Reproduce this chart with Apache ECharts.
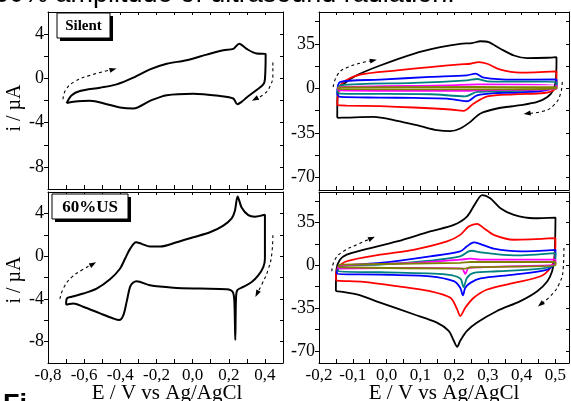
<!DOCTYPE html>
<html><head><meta charset="utf-8">
<script src="https://cdn.jsdelivr.net/npm/echarts@6/dist/echarts.min.js"></script>
<style>html,body{margin:0;padding:0;background:#fff;overflow:hidden}#c{width:571px;height:401px}</style>
</head><body><div id="c"></div><script>
// ---------- tick / label values ----------
const leftXTicks  = [-0.8,-0.7,-0.6,-0.5,-0.4,-0.3,-0.2,-0.1,0,0.1,0.2,0.3,0.4,0.5];
const leftXLabels = [-0.8,-0.6,-0.4,-0.2,0,0.2,0.4];
const rightXTicks = [-0.2,-0.15,-0.1,-0.05,0,0.05,0.1,0.15,0.2,0.25,0.3,0.35,0.4,0.45,0.5];
const rightXLabels= [-0.2,-0.1,0,0.1,0.2,0.3,0.4,0.5];
const leftYTicks  = [-8,-6,-4,-2,0,2,4];
const leftYLabels = [-8,-4,0,4];
const rightYTicks = [-70,-52.5,-35,-17.5,0,17.5,35,52.5];
const rightYLabels= [-70,-35,0,35];

// ---------- Silent, single scan (top-left), E (V) , i (uA) ----------
const silentCV = [[-0.697,-2.24],[-0.669,-1.52],[-0.623,-1.14],[-0.512,-0.84],[-0.42,-0.54],[-0.328,0.06],[-0.236,0.81],[-0.143,1.32],[-0.033,1.64],[0.078,2.15],[0.17,2.54],[0.225,2.66],[0.258,3.14],[0.299,2.66],[0.354,2.24],[0.404,2.21],[0.40,-0.09],[0.391,-0.54],[0.354,-1.05],[0.299,-1.73],[0.271,-2.12],[0.247,-2.33],[0.225,-1.82],[0.151,-1.59],[0.004,-1.38],[-0.143,-1.52],[-0.236,-2.03],[-0.328,-2.72],[-0.402,-2.63],[-0.475,-2.33],[-0.568,-2.03],[-0.66,-2.12],[-0.697,-2.24]];

// ---------- 60%US, single scan (bottom-left) ----------
const usCV = [[-0.70,-4.55],[-0.695,-3.95],[-0.669,-3.8],[-0.605,-3.5],[-0.531,-3.04],[-0.457,-2.17],[-0.402,-1.18],[-0.374,-0.25],[-0.346,0.68],[-0.313,1.3],[-0.282,1.15],[-0.236,0.9],[-0.18,0.9],[-0.088,1.3],[0.004,1.77],[0.096,2.23],[0.17,2.85],[0.216,3.53],[0.234,4.25],[0.249,5.58],[0.271,4.56],[0.308,3.84],[0.345,3.69],[0.40,3.88],[0.40,-0.25],[0.391,-1.02],[0.363,-1.8],[0.327,-2.42],[0.28,-2.88],[0.247,-3.19],[0.240,-4.0],[0.236,-7.84],[0.231,-4.28],[0.222,-3.35],[0.188,-3.1],[0.041,-3.04],[-0.107,-2.95],[-0.236,-2.73],[-0.31,-2.36],[-0.33,-2.5],[-0.346,-2.88],[-0.365,-4.28],[-0.383,-5.52],[-0.406,-5.98],[-0.439,-5.83],[-0.512,-5.36],[-0.605,-4.74],[-0.66,-4.43],[-0.688,-4.5],[-0.70,-4.55]];

// ---------- Silent, several scan rates (top-right) ----------
const silentBlack = [[-0.146,-23.2],[-0.145,-2.9],[-0.128,3.1],[-0.088,10.2],[-0.019,17.9],[0.080,27.1],[0.159,32.3],[0.218,35.0],[0.253,35.5],[0.278,37.0],[0.302,36.3],[0.337,31.1],[0.377,25.8],[0.416,23.7],[0.476,24.0],[0.503,24.5],[0.501,6.3],[0.493,-1.6],[0.476,-6.8],[0.446,-10.7],[0.396,-13.3],[0.327,-15.9],[0.278,-19.8],[0.248,-26.4],[0.218,-31.6],[0.189,-33.7],[0.149,-32.9],[0.100,-29.8],[0.031,-25.6],[-0.039,-22.5],[-0.118,-23.0],[-0.146,-23.2]];
const silentRed = [[-0.146,-13.3],[-0.143,-4.2],[-0.133,3.7],[-0.078,10.7],[0.031,14.1],[0.129,16.7],[0.218,18.8],[0.248,19.3],[0.273,20.6],[0.298,19.3],[0.337,14.6],[0.396,12.3],[0.503,13.3],[0.503,1.0],[0.490,-2.1],[0.466,-3.7],[0.377,-4.7],[0.298,-6.3],[0.258,-12.0],[0.228,-17.8],[0.189,-16.7],[0.080,-15.1],[-0.019,-14.1],[-0.118,-13.6],[-0.146,-13.3]];
const silentBlue = [[-0.146,-4.7],[-0.138,4.9],[-0.019,6.8],[0.129,8.9],[0.238,10.2],[0.263,11.5],[0.288,8.4],[0.377,6.8],[0.503,7.0],[0.503,2.3],[0.456,-2.3],[0.327,-3.7],[0.268,-5.5],[0.238,-10.2],[0.179,-8.1],[0.080,-7.6],[-0.019,-7.3],[-0.138,-6.8],[-0.146,-4.7]];
const silentTeal = [[-0.146,-3.0],[-0.138,2.3],[0.080,4.2],[0.238,6.3],[0.268,7.3],[0.298,5.5],[0.503,4.9],[0.503,1.0],[0.377,-2.1],[0.268,-2.9],[0.233,-6.3],[0.129,-4.7],[-0.138,-4.2],[-0.146,-3.0]];
const silentMagenta = [[-0.146,-0.5],[-0.138,1.0],[0.179,2.3],[0.268,3.1],[0.503,2.3],[0.503,-0.3],[0.268,-1.6],[0.238,-2.1],[-0.138,-1.6],[-0.146,-0.5]];
const silentOlive = [[-0.146,0],[-0.138,0.7],[0.260,1.0],[0.503,0.8],[0.503,-0.5],[0.250,-0.8],[-0.138,-0.7],[-0.146,0]];

// ---------- 60%US, several scan rates (bottom-right) ----------
const usBlack = [[-0.150,-21.2],[-0.148,-3.0],[-0.138,4.5],[-0.118,8.7],[-0.069,12.7],[0.031,19.5],[0.129,27.7],[0.199,33.1],[0.238,39.9],[0.263,50.7],[0.283,57.5],[0.307,54.8],[0.337,46.7],[0.377,41.2],[0.436,38.5],[0.500,39.1],[0.497,6.0],[0.490,-4.9],[0.476,-13.0],[0.446,-21.2],[0.396,-29.3],[0.327,-37.4],[0.268,-46.9],[0.238,-53.7],[0.218,-61.8],[0.209,-66.7],[0.199,-61.8],[0.184,-53.7],[0.149,-46.9],[0.080,-40.1],[-0.019,-30.6],[-0.088,-23.9],[-0.150,-21.2]];
const usRed = [[-0.150,-11.7],[-0.146,-2.7],[-0.118,3.3],[-0.019,8.7],[0.080,12.7],[0.179,19.5],[0.218,24.9],[0.243,31.7],[0.268,33.9],[0.288,30.4],[0.317,24.9],[0.377,20.9],[0.500,22.2],[0.497,6.0],[0.485,-2.2],[0.456,-9.0],[0.377,-14.4],[0.298,-19.8],[0.258,-26.6],[0.233,-34.7],[0.218,-41.5],[0.209,-36.1],[0.189,-26.6],[0.129,-21.2],[0.031,-17.1],[-0.069,-13.6],[-0.147,-12.5],[-0.150,-11.7]];
const usBlue = [[-0.147,-4.9],[-0.138,-0.8],[-0.019,1.9],[0.129,7.3],[0.218,11.4],[0.238,15.5],[0.258,18.7],[0.278,17.4],[0.317,13.6],[0.396,11.4],[0.500,12.7],[0.497,1.9],[0.476,-3.5],[0.377,-7.6],[0.278,-10.8],[0.248,-14.4],[0.233,-18.4],[0.226,-24.7],[0.218,-18.4],[0.199,-13.0],[0.129,-9.0],[-0.019,-7.6],[-0.147,-7.1],[-0.147,-4.9]];
const usTeal = [[-0.143,-1.6],[-0.138,0.0],[-0.019,0.5],[0.129,3.8],[0.218,7.3],[0.243,11.4],[0.253,11.9],[0.278,10.6],[0.377,8.1],[0.500,10.0],[0.497,0.5],[0.456,-2.7],[0.327,-4.9],[0.258,-6.2],[0.238,-10.3],[0.228,-17.9],[0.218,-10.8],[0.179,-7.6],[-0.019,-5.7],[-0.143,-4.9],[-0.143,-1.6]];
const usMagenta = [[-0.143,-1.0],[-0.138,0.0],[0.080,1.9],[0.218,4.6],[0.248,5.4],[0.278,4.6],[0.500,4.6],[0.500,1.1],[0.278,-1.6],[0.243,-2.2],[0.233,-7.1],[0.223,-2.7],[0.080,-2.2],[-0.143,-2.7],[-0.143,-1.0]];
const usOlive = [[-0.143,-0.5],[-0.138,0.5],[0.218,1.9],[0.248,2.7],[0.500,2.7],[0.500,0.0],[0.248,-1.6],[0.233,-2.7],[-0.138,-1.6],[-0.143,-0.5]];

// ---------- scan-direction arrows (dashed) ----------
const arrowTL1 = [[-0.717,-1.88],[-0.70,-0.99],[-0.65,-0.27],[-0.568,0.27],[-0.44,0.81]];
const arrowTL2 = [[0.444,1.43],[0.444,0.36],[0.428,-0.72],[0.395,-1.43],[0.345,-1.88]];
const arrowBL1 = [[-0.734,-4.0],[-0.711,-2.88],[-0.667,-1.95],[-0.612,-1.3],[-0.551,-0.74]];
const arrowBL2 = [[0.444,1.95],[0.439,0.37],[0.417,-1.3],[0.384,-2.6],[0.356,-3.53]];
const arrowTR1 = [[-0.158,1.0],[-0.143,11.5],[-0.113,16.7],[-0.078,19.8],[-0.039,21.9]];
const arrowTR2 = [[0.520,4.9],[0.515,-4.2],[0.495,-13.3],[0.466,-17.8],[0.416,-19.8]];
const arrowBR1 = [[-0.162,-4.9],[-0.153,4.6],[-0.128,11.4],[-0.088,16.8],[-0.044,22.2]];
const arrowBR2 = [[0.525,14.1],[0.523,-2.2],[0.510,-15.7],[0.485,-25.2],[0.456,-32.0]];

const panelLabels = ['Silent', '60%US'];
const axisNameY = 'i / \u00B5A';
const axisNameX = 'E / V vs Ag/AgCl';
const titleText = '60% amplitude of ultrasound radiation.';
const captionText = 'Fi';

// ---------- build chart ----------
const SERIF = '"Liberation Serif","Times New Roman",serif';
const SANS = '"Liberation Sans",Arial,sans-serif';
const grids = [
  {left:48, top:12, width:235, height:177},
  {left:319, top:12, width:250, height:178},
  {left:48, top:192, width:235, height:171},
  {left:319, top:192, width:250, height:171}
];
const fmtX = v => (Math.round(v*10)/10).toFixed(1).replace('.', ',');
const lineSt = {color:'#000', width:1};

const xAxes = [], yAxes = [];
function addAxes(gi, xr, yr, xt, xl, yt, yl, showX) {
  xAxes.push({type:'value', gridIndex:gi, position:'bottom', min:xr[0], max:xr[1], splitLine:{show:false},
    axisLine:{show:true, onZero:false, lineStyle:lineSt},
    axisTick:{show:true, inside:true, length:4, customValues:xt, lineStyle:lineSt},
    axisLabel:{show:showX, customValues:xl, formatter:fmtX, color:'#000', fontFamily:SERIF, fontSize:17, margin:4}});
  xAxes.push({type:'value', gridIndex:gi, position:'top', min:xr[0], max:xr[1], splitLine:{show:false},
    axisLine:{show:true, onZero:false, lineStyle:lineSt},
    axisTick:{show:true, inside:true, length:3, customValues:xt, lineStyle:lineSt},
    axisLabel:{show:false}});
  yAxes.push({type:'value', gridIndex:gi, position:'left', min:yr[0], max:yr[1], splitLine:{show:false},
    axisLine:{show:true, onZero:false, lineStyle:lineSt},
    axisTick:{show:true, inside:false, length:4, customValues:yt, lineStyle:lineSt},
    axisLabel:{show:true, customValues:yl, color:'#000', fontFamily:SERIF, fontSize:18, margin:4}});
  yAxes.push({type:'value', gridIndex:gi, position:'right', min:yr[0], max:yr[1], splitLine:{show:false},
    axisLine:{show:true, onZero:false, lineStyle:lineSt},
    axisTick:{show:true, inside:true, length:3, customValues:yt, lineStyle:lineSt},
    axisLabel:{show:false}});
}
addAxes(0, [-0.8,0.5], [-10,6], leftXTicks, leftXLabels, leftYTicks, leftYLabels, false);
addAxes(1, [-0.2,0.54], [-80,60], rightXTicks, rightXLabels, rightYTicks, rightYLabels, false);
addAxes(2, [-0.8,0.5], [-10,6], leftXTicks, leftXLabels, leftYTicks, leftYLabels, true);
addAxes(3, [-0.2,0.54], [-80,60], rightXTicks, rightXLabels, rightYTicks, rightYLabels, true);

const series = [];
function curve(gi, data, color, w) {
  series.push({type:'line', xAxisIndex:2*gi, yAxisIndex:2*gi, data:data, symbol:'none', showSymbol:false,
    smooth:0.3, lineStyle:{color:color, width:w}, silent:true, z:3});
}
function arrow(gi, data, rot) {
  const d = data.map((p,i) => i === data.length-1
    ? {value:p, symbol:'triangle', symbolSize:[5,7], symbolRotate:rot, itemStyle:{color:'#000'}}
    : {value:p, symbol:'none'});
  series.push({type:'line', xAxisIndex:2*gi, yAxisIndex:2*gi, data:d, showSymbol:true, smooth:0.5,
    lineStyle:{color:'#000', width:1.1, type:[3,3]}, silent:true, z:4});
}
curve(0, silentCV, '#000', 2);
curve(2, usCV, '#000', 2);
const rightColors = ['#000000','#ff0000','#0000ff','#008080','#ff00ff','#808000'];
[silentBlack, silentRed, silentBlue, silentTeal, silentMagenta, silentOlive].forEach((d,i)=>curve(1, d, rightColors[i], 1.8));
[usBlack, usRed, usBlue, usTeal, usMagenta, usOlive].forEach((d,i)=>curve(3, d, rightColors[i], 1.8));
arrow(0, arrowTL1, -75); arrow(0, arrowTL2, 119);
arrow(2, arrowBL1, -60); arrow(2, arrowBL2, 153);
arrow(1, arrowTR1, -78); arrow(1, arrowTR2, 99);
arrow(3, arrowBR1, -66); arrow(3, arrowBR2, 130);

function labelBox(x, y, w, h, text, fs) {
  return [
    {type:'rect', shape:{x:x+3, y:y+3, width:w, height:h}, style:{fill:'#000'}, z:10},
    {type:'rect', shape:{x:x, y:y, width:w, height:h}, style:{fill:'#fff', stroke:'#000', lineWidth:1}, z:11},
    {type:'text', x:x+w/2, y:y+h/2+1, style:{text:text, font:'bold '+fs+'px '+SERIF, fill:'#000', align:'center', verticalAlign:'middle'}, z:12}
  ];
}

const graphic = [
  {type:'text', x:-6, y:-5, style:{text:titleText, font:'27px '+SANS, fill:'#000', align:'left', verticalAlign:'middle'}},
  {type:'text', x:3, y:406, style:{text:captionText, font:'bold 27px '+SANS, fill:'#000', align:'left', verticalAlign:'middle'}},
  {type:'text', x:15, y:108, rotation:Math.PI/2, style:{text:axisNameY, font:'20px '+SERIF, fill:'#000', align:'center', verticalAlign:'middle'}},
  {type:'text', x:15, y:280, rotation:Math.PI/2, style:{text:axisNameY, font:'20px '+SERIF, fill:'#000', align:'center', verticalAlign:'middle'}},
  {type:'text', x:167, y:393, style:{text:axisNameX, font:'21px '+SERIF, fill:'#000', align:'center', verticalAlign:'middle'}},
  {type:'text', x:444, y:393, style:{text:axisNameX, font:'21px '+SERIF, fill:'#000', align:'center', verticalAlign:'middle'}}
].concat(labelBox(57, 13, 53, 25, panelLabels[0], 15), labelBox(52, 194, 76, 25, panelLabels[1], 17));

const chart = echarts.init(document.getElementById('c'), null, {renderer:'canvas'});
chart.setOption({
  animation:false,
  backgroundColor:'#fff',
  grid: grids.map(g => Object.assign({containLabel:false, outerBoundsMode:'none'}, g)),
  xAxis: xAxes, yAxis: yAxes, series: series, graphic: graphic
});
</script></body></html>
